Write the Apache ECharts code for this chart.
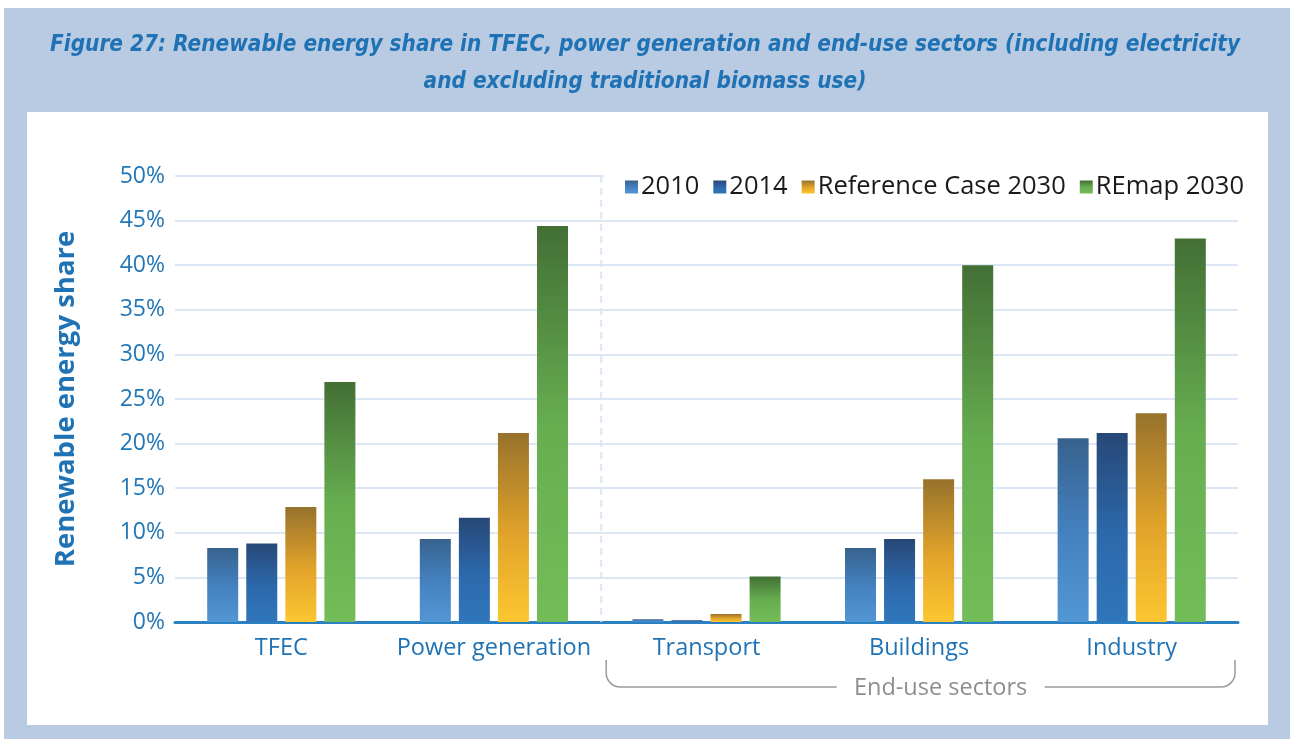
<!DOCTYPE html>
<html>
<head>
<meta charset="utf-8">
<script src="https://cdn.jsdelivr.net/npm/echarts@6/dist/echarts.min.js"></script>
<style>
  html, body { margin: 0; padding: 0; background: #ffffff; }
  #frame { position: absolute; left: 4px; top: 8px; width: 1286px; height: 731px; background: #b9cae3; }
  #panel { position: absolute; left: 27px; top: 112px; width: 1241px; height: 613px; background: #ffffff; }
  #chart { position: absolute; left: 0; top: 0; width: 1290px; height: 739px; }
</style>
</head>
<body>
<div id="frame"></div>
<div id="panel"></div>
<div id="chart"></div>
<script>
// Sectors and renewable shares (%)
const categories = ['TFEC', 'Power generation', 'Transport', 'Buildings', 'Industry'];
const seriesNames = ['2010', '2014', 'Reference Case 2030', 'REmap 2030'];
const share2010 = [8.3, 9.3, 0.3, 8.3, 20.6];
const share2014 = [8.8, 11.7, 0.2, 9.3, 21.2];
const shareRef2030 = [12.9, 21.2, 0.9, 16.0, 23.4];
const shareREmap2030 = [26.9, 44.4, 5.1, 40.0, 43.0];
const yTicks = [0, 5, 10, 15, 20, 25, 30, 35, 40, 45, 50];

const titleText = 'Figure 27: Renewable energy share in TFEC, power generation and end-use sectors (including electricity\nand excluding traditional biomass use)';
const yAxisTitle = 'Renewable energy share';
const groupLabel = 'End-use sectors';

const BLUE_TEXT = '#1f73b5';
const FONT = "'Open Sans', 'Liberation Sans', sans-serif";

function grad(stops) {
  return new echarts.graphic.LinearGradient(0, 0, 0, 1,
    stops.map(([offset, color]) => ({ offset, color })));
}

const fills = [
  grad([[0, '#37628d'], [0.5, '#4480bf'], [1, '#5397d5']]),
  grad([[0, '#274877'], [0.55, '#2c69ac'], [1, '#3076ba']]),
  grad([[0, '#97722c'], [0.55, '#e3a42a'], [1, '#fcc631']]),
  grad([[0, '#436f35'], [0.5, '#66ad50'], [1, '#73bd58']])
];
const values = [share2010, share2014, shareRef2030, shareREmap2030];

const chart = echarts.init(document.getElementById('chart'), null, { renderer: 'canvas' });

const option = {
  animation: false,
  backgroundColor: 'transparent',
  title: {
    text: titleText,
    left: 'center',
    top: 22,
    textStyle: {
      fontFamily: "'Liberation Sans Narrow', 'DejaVu Sans Condensed', 'Liberation Sans', sans-serif",
      fontStyle: 'italic',
      fontWeight: 'bold',
      fontSize: 22.4,
      lineHeight: 37,
      color: BLUE_TEXT
    }
  },
  legend: {
    data: seriesNames,
    left: 604,
    top: 168,
    icon: 'rect',
    itemWidth: 13,
    itemHeight: 13,
    itemGap: 14,
    padding: [6, 4, 4, 21],
    backgroundColor: '#ffffff',
    textStyle: { fontFamily: FONT, fontSize: 25.5, color: '#1a1a1a', padding: [0, 0, 0, -2] }
  },
  grid: { left: 175, right: 52, top: 176, bottom: 117, containLabel: false },
  xAxis: {
    type: 'category',
    data: categories,
    axisLine: { lineStyle: { color: '#2a80c1', width: 3 } },
    axisTick: { show: false },
    axisLabel: { interval: 0, color: BLUE_TEXT, fontFamily: FONT, fontSize: 23.5, margin: 14 }
  },
  yAxis: {
    type: 'value',
    min: yTicks[0],
    max: yTicks[yTicks.length - 1],
    interval: yTicks[1] - yTicks[0],
    name: yAxisTitle,
    nameLocation: 'middle',
    nameRotate: 90,
    nameGap: 95,
    nameTextStyle: { color: BLUE_TEXT, fontFamily: FONT, fontSize: 27.5, fontWeight: 'bold' },
    axisLine: { show: false },
    axisTick: { show: false },
    axisLabel: { color: '#2277b8', fontFamily: FONT, fontSize: 23, margin: 10, formatter: '{value}%' },
    splitLine: { lineStyle: { color: '#dce7f5', width: 2 } }
  },
  series: seriesNames.map((name, i) => ({
    name,
    type: 'bar',
    data: values[i],
    barWidth: 31,
    barGap: '26%',
    itemStyle: { color: fills[i] }
  }))
};

chart.setOption(option);

// Divider between supply-side categories and end-use sectors, plus the bracket underneath
const xOf = c => chart.convertToPixel({ xAxisIndex: 0 }, c);
const yOf = v => chart.convertToPixel({ yAxisIndex: 0 }, v);
const band = xOf(categories[2]) - xOf(categories[1]);
const splitX = xOf(categories[1]) + band / 2;
const endX = xOf(categories[4]) + band / 2;
const y0 = yOf(yTicks[0]);
const yTop = yOf(yTicks[yTicks.length - 1]);

const bL = splitX + 6, bR = endX - 3;
const bTop = y0 + 38, bBot = y0 + 65, r = 14;
const textCx = (bL + bR) / 2 + 20;
const textHalf = 104;
const bracketStyle = { stroke: '#9a9a9a', lineWidth: 1.5, fill: null };

chart.setOption({
  graphic: [
    {
      type: 'line',
      shape: { x1: splitX + 1, y1: yTop, x2: splitX + 1, y2: y0 },
      style: { stroke: '#dbe6f4', lineWidth: 2, lineDash: [7, 5] },
      z: 1
    },
    { type: 'line', shape: { x1: bL, y1: bTop, x2: bL, y2: bBot - r }, style: bracketStyle },
    { type: 'arc', shape: { cx: bL + r, cy: bBot - r, r: r, startAngle: Math.PI / 2, endAngle: Math.PI, clockwise: true }, style: bracketStyle },
    { type: 'line', shape: { x1: bL + r, y1: bBot, x2: textCx - textHalf, y2: bBot }, style: bracketStyle },
    { type: 'line', shape: { x1: textCx + textHalf, y1: bBot, x2: bR - r, y2: bBot }, style: bracketStyle },
    { type: 'arc', shape: { cx: bR - r, cy: bBot - r, r: r, startAngle: 0, endAngle: Math.PI / 2, clockwise: true }, style: bracketStyle },
    { type: 'line', shape: { x1: bR, y1: bBot - r, x2: bR, y2: bTop }, style: bracketStyle },
    {
      type: 'text',
      x: textCx,
      y: bBot + 1,
      style: {
        text: groupLabel,
        fill: '#8e8e8e',
        font: `23.5px ${FONT}`,
        align: 'center',
        verticalAlign: 'middle'
      }
    }
  ]
});
</script>
</body>
</html>
